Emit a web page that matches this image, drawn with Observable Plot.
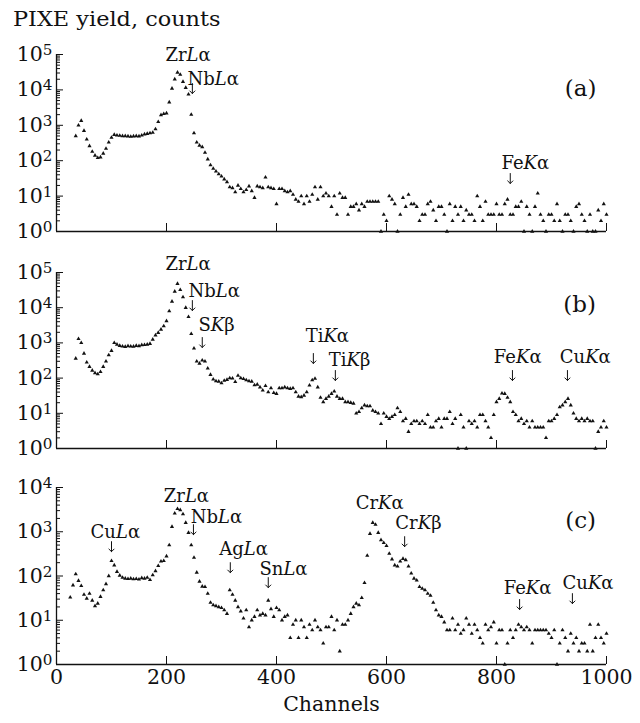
<!DOCTYPE html>
<html>
<head>
<meta charset="utf-8">
<script src="https://cdn.jsdelivr.net/npm/d3@7"></script>
<script src="https://cdn.jsdelivr.net/npm/@observablehq/plot@0.6"></script>
<style>
  body { margin: 0; background: #fff; }
  #chart { position: relative; width: 640px; height: 723px; overflow: hidden; font-family: "DejaVu Serif", serif; color: #111; }
  #title { position: relative; height: 30px; }
  #title span { position: absolute; left: 13px; top: 9px; font-size: 20px; line-height: 1; white-space: nowrap; transform: scaleX(1.12); transform-origin: left top; }
  svg { display: block; overflow: visible; }
</style>
</head>
<body>
<div id="chart"><div id="title"><span>PIXE yield, counts</span></div></div>
<script>
// ---------- data (counts per channel, one point every STEP channels) ----------
const STEP = 5;
const startA = 35;
const countsA = [
  500, 1000, 1350, 700, 400, 260, 180, 140, 120, 125,
  160, 220, 330, 450, 540, 520, 510, 500, 500, 490,
  480, 490, 500, 490, 520, 560, 580, 600, 620, 780,
  1250, 1950, 2100, 2200, 4500, 11000, 20000, 31000, 27000, 17000,
  11500, 7500, 2000, 600, 330, 270, 245, 170, 110, 75,
  60, 50, 42, 36, 30, 25, 18, 17, 13, 20,
  16, 13, 15, 19, 14, 9, 19, 18, 17, 34,
  18, 17, 16, 6, 16, 16, 14, 13, 14, 11,
  8, 7, 10, 6, 10, 7, 11, 18, 8, 18,
  10, 12, 10, 5, 10, 3, 12, 9, 9, 3,
  5, 5, 6, 4, 6, 5, 7, 7, 7, 7,
  7, 1, 3, 2, 10, 8, 6, 1, 3, 9,
  5, 11, 6, 6, 5, 2, 3, 3, 6, 7,
  4, 2, 5, 5, 3, 1, 6, 2, 5, 3,
  5, 2, 4, 3, 3, 2, 10, 5, 2, 7,
  3, 3, 3, 6, 3, 3, 6, 8, 3, 3,
  5, 5, 7, 1, 5, 3, 1, 5, 12, 3,
  2, 1, 3, 3, 2, 6, 2, 1, 3, 3,
  2, 1, 5, 6, 3, 2, 1, 3, 1, 1,
  4, 2, 6, 3
];
const startB = 35;
const countsB = [
  360, 1300, 1000, 500, 280, 210, 165, 140, 130, 150,
  210, 300, 450, 600, 1000, 900, 830, 800, 780, 820,
  800, 790, 830, 820, 870, 880, 900, 950, 1250, 1650,
  1950, 2400, 3000, 4200, 8000, 15000, 29000, 48000, 32000, 20000,
  10000, 5500, 1800, 700, 300, 260, 320, 300, 190, 125,
  92, 82, 80, 72, 85, 90, 100, 98, 78, 118,
  100, 95, 88, 82, 80, 63, 66, 55, 45, 60,
  40, 52, 38, 36, 52, 52, 55, 52, 50, 52,
  40, 30, 29, 32, 40, 62, 88, 97, 55, 28,
  21, 26, 30, 36, 42, 30, 26, 26, 21, 21,
  20, 19, 10, 11, 14, 17, 16, 16, 12, 11,
  10, 5, 10, 8, 7, 8, 9, 14, 11, 6,
  7, 3, 5, 6, 6, 5, 6, 5, 9, 4,
  4, 6, 7, 4, 7, 7, 11, 5, 7, 1,
  9, 4, 1, 6, 5, 6, 4, 9, 9, 6,
  4, 2, 9, 21, 26, 37, 36, 28, 21, 11,
  9, 6, 7, 5, 6, 4, 6, 4, 4, 4,
  4, 2, 6, 6, 7, 9, 15, 17, 21, 26,
  17, 10, 7, 6, 7, 6, 7, 6, 6, 1,
  3, 4, 6, 4
];
const startC = 25;
const countsC = [
  33, 62, 110, 78, 60, 38, 31, 40, 28, 21,
  24, 34, 48, 66, 100, 220, 175, 125, 103, 92,
  88, 86, 88, 85, 86, 84, 90, 88, 92, 82,
  105, 130, 170, 215, 220, 280, 500, 1300, 2600, 3300,
  3100, 2500, 1600, 950, 500, 260, 120, 75, 58, 57,
  40, 25, 22, 21, 20, 19, 17, 14, 48, 38,
  28, 20, 16, 11, 17, 7, 10, 12, 17, 13,
  14, 13, 28, 18, 12, 19, 17, 10, 12, 13,
  4, 8, 10, 4, 10, 7, 4, 8, 6, 10,
  7, 6, 3, 7, 7, 12, 6, 10, 2, 8,
  8, 10, 14, 20, 24, 22, 32, 70, 290, 900,
  1600, 1450, 950, 650, 560, 480, 320, 240, 175, 165,
  215, 245, 230, 165, 115, 88, 80, 57, 52, 48,
  40, 36, 25, 17, 13, 12, 9, 6, 6, 11,
  6, 8, 5, 6, 11, 8, 5, 8, 6, 4,
  3, 8, 6, 7, 9, 3, 6, 6, 1, 3,
  6, 4, 6, 8, 7, 6, 7, 6, 3, 6,
  6, 6, 6, 6, 5, 4, 6, 1, 3, 6,
  4, 2, 5, 3, 4, 2, 3, 3, 2, 8,
  2, 4, 8, 4, 3, 5
];

// axis ticks
const xTicks = [0, 200, 400, 600, 800, 1000];
const decadesAB = [1, 10, 100, 1000, 10000, 100000];
const decadesC = [1, 10, 100, 1000, 10000];

// annotations ("|" separates roman / italic / roman parts)
const labelsA = ["Zr|L|α", "Nb|L|α", "Fe|K|α"];
const labelXA = [198, 238, 809];
const labelYA = [67600, 14200, 60];
const arrowXA = [247, 825];
const arrowYA = [7900, 22.7];

const labelsB = ["Zr|L|α", "Nb|L|α", "S|K|β", "Ti|K|α", "Ti|K|β", "Fe|K|α", "Cu|K|α"];
const labelXB = [198, 240, 258, 453, 495, 795, 915];
const labelYB = [114000, 20800, 2110, 1030, 228, 260, 260];
const arrowXB = [247, 265, 467, 507, 829, 929];
const arrowYB = [8300, 740, 260, 85.5, 85.5, 85.5];

const labelsC = ["Cu|L|α", "Zr|L|α", "Nb|L|α", "Ag|L|α", "Sn|L|α", "Cr|K|α", "Cr|K|β", "Fe|K|α", "Cu|K|α"];
const labelXC = [62, 195, 244, 296, 369, 544, 616, 813, 920];
const labelYC = [736, 4780, 1600, 295, 106, 3330, 1170, 40, 52];
const arrowXC = [100, 249, 316, 385, 633, 842, 938];
const arrowYC = [355, 860, 119, 54.7, 461, 17.5, 23.8];

const tags = ["(a)", "(b)", "(c)"];
const tagX = [953, 951, 953];
const tagY = [11000, 12400, 1780];

// ---------- drawing ----------
const NS = "http://www.w3.org/2000/svg";
const INK = "#111";
const SERIF = "'DejaVu Serif', serif";

function dressText(svg) {
  svg.querySelectorAll("text").forEach(t => {
    const s = t.textContent;
    if (s.includes("^")) {
      const [b, e] = s.split("^");
      t.textContent = "";
      const t1 = document.createElementNS(NS, "tspan"); t1.textContent = b; t.appendChild(t1);
      const t2 = document.createElementNS(NS, "tspan"); t2.textContent = e;
      t2.setAttribute("dy", "-0.4em"); t2.setAttribute("font-size", "0.74em"); t.appendChild(t2);
    } else if (s.includes("|")) {
      const parts = s.split("|");
      t.textContent = "";
      parts.forEach((p, i) => {
        const sp = document.createElementNS(NS, "tspan");
        sp.textContent = p;
        if (i % 2 === 1) sp.setAttribute("font-style", "italic");
        t.appendChild(sp);
      });
    }
  });
}

function panel(o) {
  const data = o.counts.map((v, i) => ({ch: o.start + i * STEP, v}));
  const minors = [];
  o.decades.slice(0, -1).forEach(m => { for (let k = 2; k <= 9; k++) minors.push(m * k); });
  const labels = o.labels.map((s, i) => ({s, x: o.lx[i], y: o.ly[i]}));
  const arrows = o.ax.map((x, i) => ({x, y: o.ay[i]}));
  const marks = [
    Plot.ruleX([0], {stroke: INK, strokeWidth: 1.3}),
    Plot.ruleY([o.decades[0]], {stroke: INK, strokeWidth: 1.3}),
    Plot.axisY({ticks: minors, tickSize: -4, tickFormat: () => "", label: null, stroke: INK}),
    Plot.axisY({ticks: o.decades, tickSize: -7, tickFormat: () => "", label: null, stroke: INK}),
    Plot.axisY({ticks: o.decades, tickSize: 0, tickPadding: 4, fontSize: 20.5, label: null, fill: INK,
      tickFormat: d => "10^" + Math.round(Math.log10(d))}),
    Plot.axisX({ticks: xTicks.slice(1), tickSize: -8, tickFormat: () => "", label: null, stroke: INK}),
    Plot.dot(data, {x: "ch", y: "v", symbol: "triangle", r: 1.55, fill: INK}),
    Plot.text(labels, {x: "x", y: "y", text: "s", textAnchor: "start", lineAnchor: "bottom", fontSize: 18, fill: INK}),
    Plot.vector(arrows, {x: "x", y: "y", length: 10, rotate: 180, anchor: "end", r: 4.5,
      stroke: INK, strokeWidth: 1}),
    Plot.text([o.tag], {x: () => o.tx, y: () => o.ty, text: d => d, textAnchor: "middle", lineAnchor: "middle", fontSize: 23, fill: INK})
  ];
  if (o.xLabels) {
    marks.push(Plot.axisX({ticks: xTicks, tickSize: 0, tickPadding: 5, fontSize: 20.5, fill: INK,
      tickFormat: d => String(d),
      label: "Channels", labelAnchor: "center", labelOffset: 46, labelArrow: "none"}));
  }
  const svg = Plot.plot({
    width: 640, height: o.height,
    marginLeft: 56, marginRight: 34, marginTop: o.marginTop, marginBottom: o.marginBottom,
    x: {domain: [0, 1000]},
    y: {type: "log", domain: [o.decades[0], o.decades[o.decades.length - 1]]},
    style: {fontFamily: SERIF, fontSize: "20.5px", color: INK, background: "transparent", overflow: "visible"},
    marks
  });
  dressText(svg);
  document.getElementById("chart").appendChild(svg);
}

panel({counts: countsA, start: startA, decades: decadesAB, labels: labelsA, lx: labelXA, ly: labelYA,
  ax: arrowXA, ay: arrowYA, tag: tags[0], tx: tagX[0], ty: tagY[0], height: 215, marginTop: 24, marginBottom: 14});
panel({counts: countsB, start: startB, decades: decadesAB, labels: labelsB, lx: labelXB, ly: labelYB,
  ax: arrowXB, ay: arrowYB, tag: tags[1], tx: tagX[1], ty: tagY[1], height: 220, marginTop: 27, marginBottom: 17});
panel({counts: countsC, start: startC, decades: decadesC, labels: labelsC, lx: labelXC, ly: labelYC,
  ax: arrowXC, ay: arrowYC, tag: tags[2], tx: tagX[2], ty: tagY[2], height: 258, marginTop: 22, marginBottom: 59, xLabels: true});
</script>
</body>
</html>
